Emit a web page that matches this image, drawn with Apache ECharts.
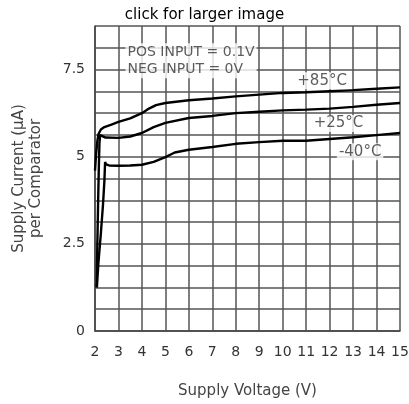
<!DOCTYPE html>
<html>
<head>
<meta charset="utf-8">
<script src="https://cdn.jsdelivr.net/npm/echarts@6/dist/echarts.min.js"></script>
<style>html,body{margin:0;padding:0;background:#fff;}#c{width:409px;height:404px;}</style>
</head>
<body>
<div id="c"></div>
<script>
// Supply voltage (V) / supply current (uA) samples
var v85 = [2.0, 2.05, 2.1, 2.15, 2.25, 2.4, 2.7, 3.0, 3.5, 4.0, 4.3, 4.6, 5.0, 6.0, 7.0, 8.0, 9.0, 10.0, 11.0, 12.0, 13.0, 14.0, 15.0];
var i85 = [4.6, 5.1, 5.45, 5.65, 5.78, 5.85, 5.92, 6.0, 6.1, 6.25, 6.38, 6.48, 6.54, 6.62, 6.67, 6.73, 6.78, 6.83, 6.85, 6.88, 6.91, 6.95, 6.99];

var v25 = [2.07, 2.1, 2.13, 2.16, 2.19, 2.22, 2.3, 2.45, 3.0, 3.5, 4.0, 4.5, 5.0, 6.0, 7.0, 8.0, 9.0, 10.0, 11.0, 12.0, 13.0, 14.0, 15.0];
var i25 = [1.25, 2.5, 3.6, 4.6, 5.4, 5.62, 5.58, 5.55, 5.54, 5.58, 5.68, 5.85, 5.97, 6.11, 6.17, 6.25, 6.29, 6.33, 6.35, 6.38, 6.43, 6.49, 6.54];

var vm40 = [2.08, 2.15, 2.25, 2.34, 2.4, 2.43, 2.47, 2.6, 3.0, 3.5, 4.0, 4.5, 5.0, 5.4, 6.0, 7.0, 8.0, 9.0, 10.0, 11.0, 12.0, 13.0, 14.0, 15.0];
var im40 = [1.25, 2.0, 2.8, 3.62, 4.3, 4.85, 4.78, 4.75, 4.74, 4.75, 4.77, 4.85, 4.99, 5.12, 5.2, 5.28, 5.37, 5.42, 5.46, 5.46, 5.51, 5.56, 5.62, 5.68];

var yTickLabels = ['0', '2.5', '5', '7.5'];

// Annotations (text and their data positions)
var noteText = ['POS INPUT = 0.1V\nNEG INPUT = 0V'];
var noteX = [3.3];
var noteY = [7.75];
var tempText = ['+85\u00B0C', '+25\u00B0C', '-40\u00B0C'];
var tempX = [11.68, 12.38, 13.3];
var tempY = [7.18, 5.95, 5.14];

function zip(a, b) { return a.map(function (x, k) { return [x, b[k]]; }); }

var FONT = 'DejaVu Sans';
var chart = echarts.init(document.getElementById('c'), null, { renderer: 'canvas' });

var lineStyle = { color: '#000', width: 2.4 };
function curve(name, xs, ys) {
  return {
    name: name, type: 'line', data: zip(xs, ys), showSymbol: false, smooth: false,
    lineStyle: lineStyle, z: 3, silent: true
  };
}

chart.setOption({
  animation: false,
  backgroundColor: '#fff',
  title: {
    text: 'click for larger image', left: 'center', top: 3,
    textStyle: { fontFamily: FONT, fontSize: 15, fontWeight: 'normal', color: '#000' }
  },
  grid: { left: 95, right: 9, top: 26, bottom: 73, containLabel: false, outerBoundsMode: 'none' },
  xAxis: {
    type: 'value', min: 2, max: 15, interval: 1,
    name: 'Supply Voltage (V)', nameLocation: 'middle', nameGap: 53,
    nameTextStyle: { fontFamily: FONT, fontSize: 15, color: '#444' },
    axisLine: { show: true, lineStyle: { color: '#444', width: 1.5 } },
    axisTick: { show: false },
    axisLabel: { fontFamily: FONT, fontSize: 14, color: '#333', margin: 14, interval: 0, hideOverlap: false },
    splitLine: { show: true, lineStyle: { color: '#555', width: 1.5 } }
  },
  yAxis: {
    type: 'value', min: 0, max: 8.75, interval: 0.625,
    name: 'Supply Current (\u03BCA)\nper Comparator', nameLocation: 'middle', nameGap: 50, nameRotate: 90,
    nameTextStyle: { fontFamily: FONT, fontSize: 15, color: '#444', lineHeight: 17 },
    axisLine: { show: true, lineStyle: { color: '#444', width: 1.5 } },
    axisTick: { show: false },
    axisLabel: {
      fontFamily: FONT, fontSize: 14, color: '#333', margin: 10, showMinLabel: true, showMaxLabel: true,
      formatter: function (v) {
        var k = v / 2.5;
        if (Math.abs(k - Math.round(k)) < 1e-6) return yTickLabels[Math.round(k)] || '';
        return '';
      }
    },
    splitLine: { show: true, lineStyle: { color: '#555', width: 1.5 } }
  },
  series: [
    curve('+85', v85, i85),
    curve('+25', v25, i25),
    curve('-40', vm40, im40),
    {
      type: 'scatter', symbolSize: 0, silent: true, z: 5,
      data: noteX.map(function (x, k) { return { value: [x, noteY[k]], name: noteText[k] }; }),
      label: {
        show: true, position: 'right', distance: 0, formatter: '{b}',
        fontFamily: FONT, fontSize: 14, color: '#333', lineHeight: 17,
        backgroundColor: '#fff', padding: [1, 2, 0, 2]
      }
    },
    {
      type: 'scatter', symbolSize: 0, silent: true, z: 5,
      data: tempX.map(function (x, k) { return { value: [x, tempY[k]], name: tempText[k] }; }),
      label: {
        show: true, position: 'inside', formatter: '{b}',
        fontFamily: FONT, fontSize: 15, color: '#333',
        backgroundColor: '#fff', padding: [1, 2, 1, 2]
      }
    }
  ]
});
</script>
</body>
</html>
